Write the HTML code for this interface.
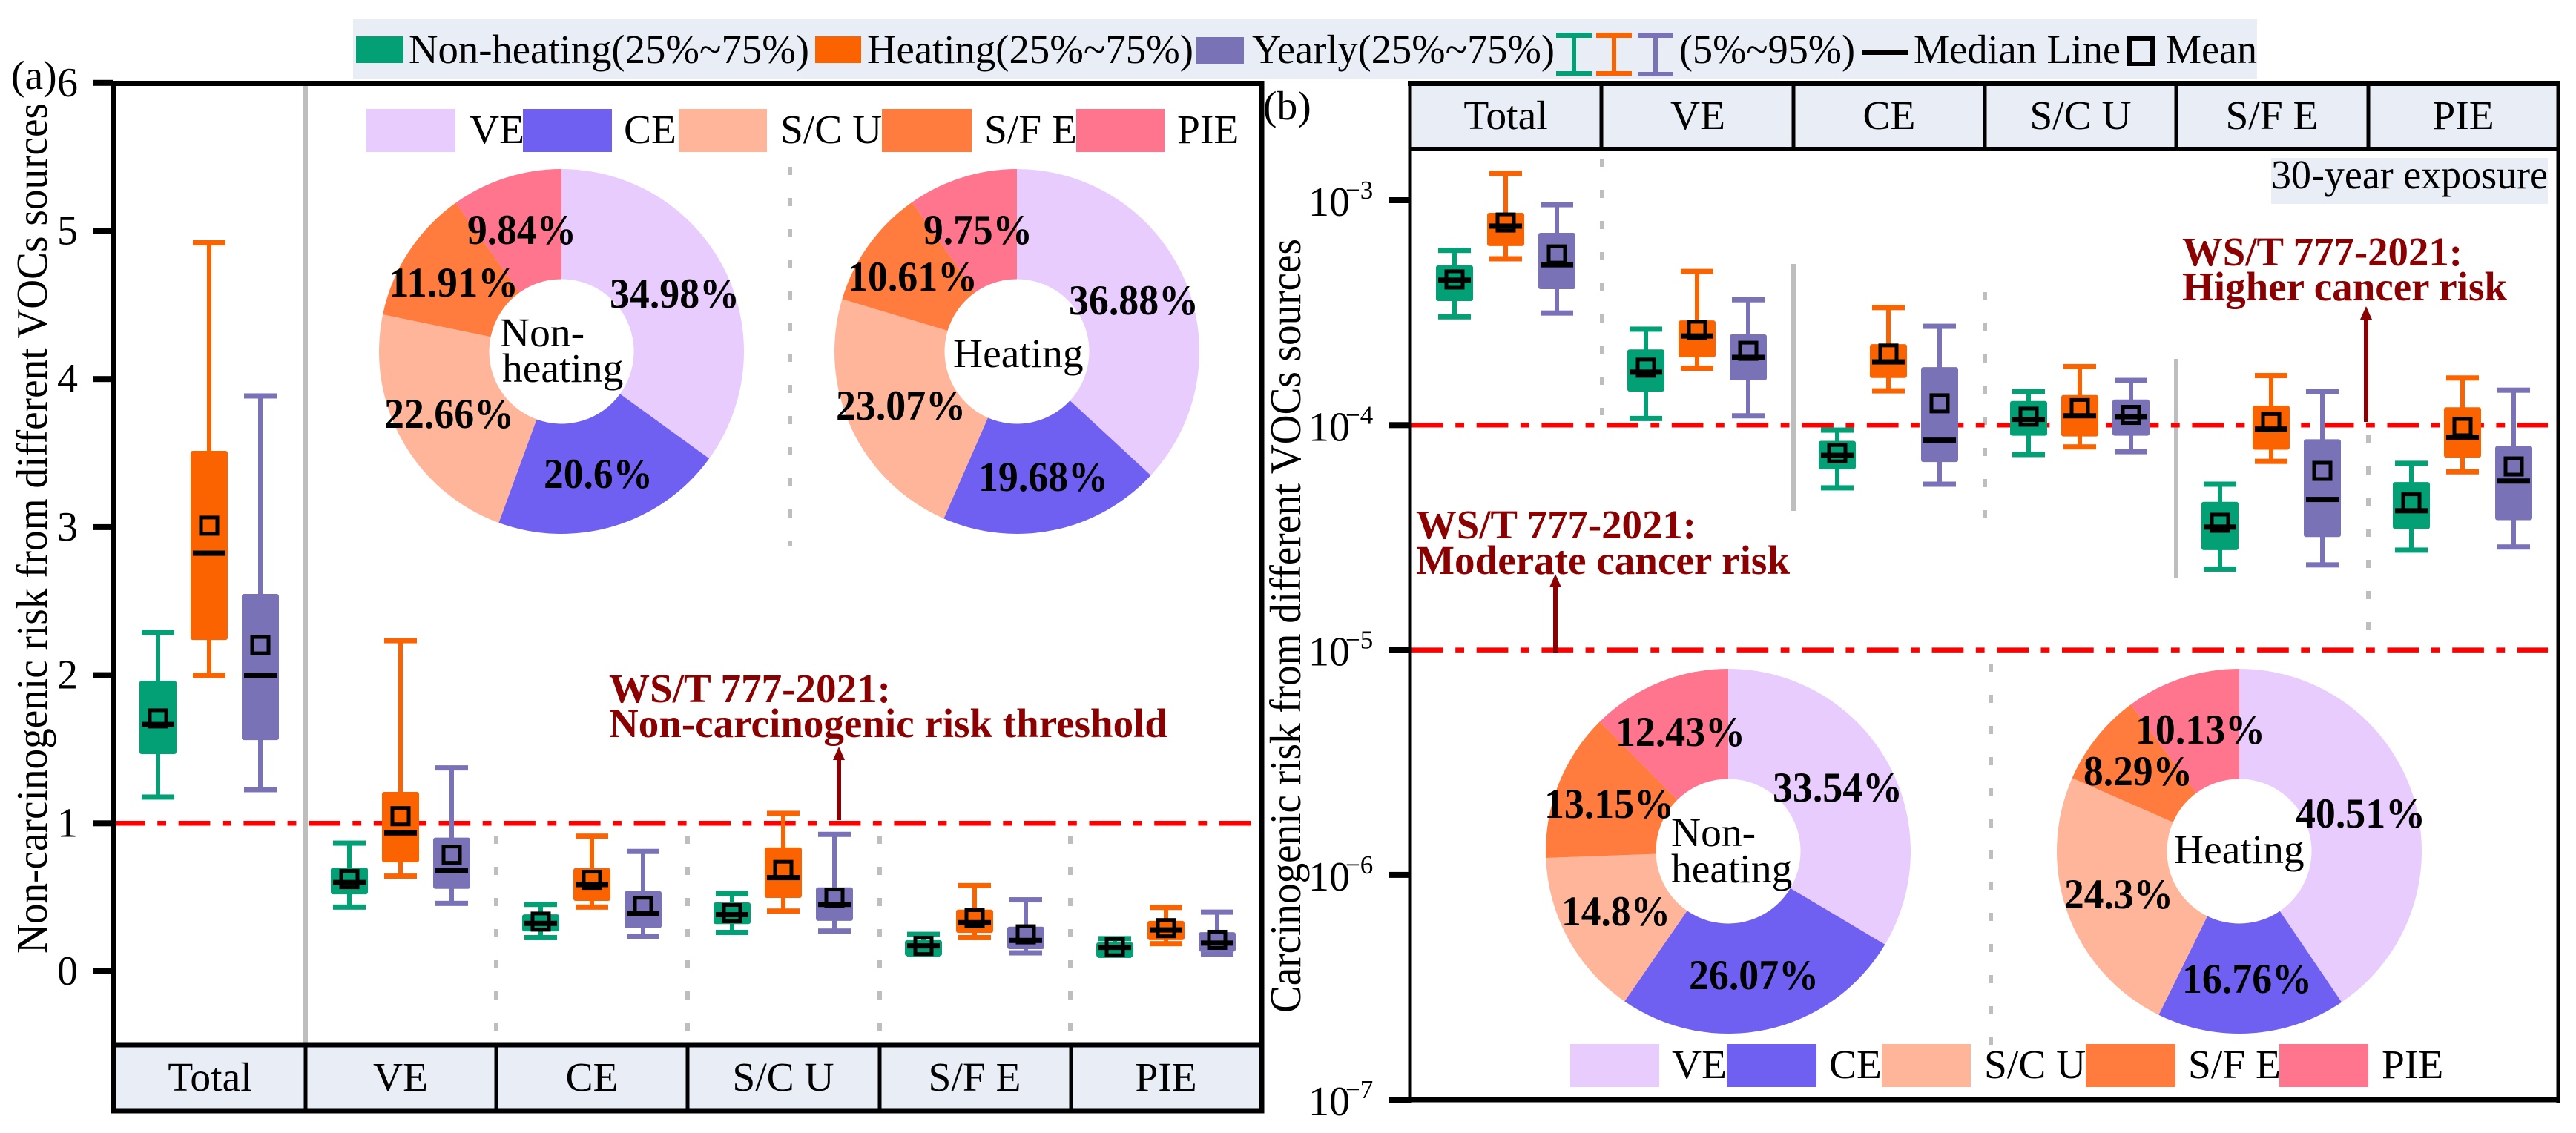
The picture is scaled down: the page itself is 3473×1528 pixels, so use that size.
<!DOCTYPE html>
<html lang="en">
<head>
<meta charset="utf-8">
<title>Non-carcinogenic and carcinogenic risk from VOCs sources</title>
<style>
html,body{margin:0;padding:0;background:#fff;}
svg{display:block;}
text{font-family:"Liberation Serif","DejaVu Serif",serif;fill:#000;}
.f54{font-size:55.5px;}
.pct{font-size:57px;font-weight:bold;}
.note{font-size:55px;font-weight:bold;fill:#8B0000;}
.ttl{font-size:59px;}
.mid{text-anchor:middle;}
</style>
</head>
<body>
<svg id="chart" xmlns="http://www.w3.org/2000/svg" width="3473" height="1528" viewBox="0 0 3473 1528">
  <rect x="0" y="0" width="3473" height="1528" fill="#fff"/>

  <g>
    <rect x="476" y="26" width="2567" height="80" fill="#E9EEF6"/>
    <rect x="480" y="49" width="64" height="36" fill="#03A076"/>
    <text class="f54" x="551" y="85" textLength="540" lengthAdjust="spacingAndGlyphs">Non-heating(25%~75%)</text>
    <rect x="1099" y="49" width="62" height="36" fill="#FA6300"/>
    <text class="f54" x="1169" y="85" textLength="440" lengthAdjust="spacingAndGlyphs">Heating(25%~75%)</text>
    <rect x="1613" y="50" width="64" height="36" fill="#7A72B6"/>
    <text class="f54" x="1688" y="85" textLength="408" lengthAdjust="spacingAndGlyphs">Yearly(25%~75%)</text>
    <g fill="#03A076">
      <rect x="2098" y="44" width="48" height="7"/><rect x="2119" y="44" width="6" height="58"/><rect x="2098" y="96" width="48" height="6"/>
    </g>
    <g fill="#FA6300">
      <rect x="2152" y="44" width="48" height="7"/><rect x="2173" y="44" width="6" height="58"/><rect x="2152" y="96" width="48" height="6"/>
    </g>
    <g fill="#7A72B6">
      <rect x="2208" y="44" width="48" height="7"/><rect x="2229" y="44" width="6" height="59"/><rect x="2208" y="97" width="48" height="6"/>
    </g>
    <text class="f54" x="2264" y="85" textLength="237" lengthAdjust="spacingAndGlyphs">(5%~95%)</text>
    <rect x="2510" y="67" width="63" height="7" fill="#000"/>
    <text class="f54" x="2580" y="85" textLength="279" lengthAdjust="spacingAndGlyphs">Median Line</text>
    <rect x="2871" y="52" width="31" height="34" fill="none" stroke="#000" stroke-width="6"/>
    <text class="f54" x="2920" y="85" textLength="123" lengthAdjust="spacingAndGlyphs">Mean</text>
  </g>

  <text class="f54" x="15" y="120">(a)</text>
  <text class="f54" x="1703" y="161">(b)</text>

  <text class="ttl" transform="translate(63,1286) rotate(-90)" textLength="1147" lengthAdjust="spacingAndGlyphs">Non-carcinogenic risk from different VOCs sources</text>
  <text class="ttl" transform="translate(1753,1366) rotate(-90)" textLength="1044" lengthAdjust="spacingAndGlyphs">Carcinogenic risk from different VOCs sources</text>

  <!-- Panel a static furniture -->
  <g stroke="#BEBEBE" stroke-width="6" fill="none">
    <line x1="412" y1="112" x2="412" y2="1409"/>
    <line x1="669" y1="1127" x2="669" y2="1391" stroke-dasharray="11 31"/>
    <line x1="927" y1="1127" x2="927" y2="1391" stroke-dasharray="11 31"/>
    <line x1="1186" y1="1127" x2="1186" y2="1391" stroke-dasharray="11 31"/>
    <line x1="1443" y1="1127" x2="1443" y2="1391" stroke-dasharray="11 31"/>
    <line x1="1065" y1="225" x2="1065" y2="737" stroke-dasharray="11 31"/>
  </g>

  <!-- Panel b static furniture -->
  <g stroke="#BEBEBE" stroke-width="6" fill="none">
    <line x1="2160" y1="214" x2="2160" y2="560" stroke-dasharray="11 31"/>
    <line x1="2418" y1="356" x2="2418" y2="689"/>
    <line x1="2676" y1="394" x2="2676" y2="698" stroke-dasharray="11 31"/>
    <line x1="2934" y1="484" x2="2934" y2="780"/>
    <line x1="3193" y1="587" x2="3193" y2="852" stroke-dasharray="11 31"/>
    <line x1="2684" y1="895" x2="2684" y2="1409" stroke-dasharray="11 31"/>
  </g>

  <g id="pies"></g>
  <g id="refLines"></g>
  <g id="boxes"></g>
  <g id="ticks"></g>

  <!-- Panel a strip -->
  <g>
    <rect x="153" y="1409" width="1548" height="89" fill="#E9EEF6"/>
    <rect x="153" y="112.5" width="1548" height="1385.5" fill="none" stroke="#000" stroke-width="7"/>
    <line x1="153" y1="1409" x2="1701" y2="1409" stroke="#000" stroke-width="7"/>
    <g stroke="#000" stroke-width="5">
      <line x1="412" y1="1409" x2="412" y2="1498"/><line x1="669" y1="1409" x2="669" y2="1498"/><line x1="927" y1="1409" x2="927" y2="1498"/><line x1="1186" y1="1409" x2="1186" y2="1498"/><line x1="1444" y1="1409" x2="1444" y2="1498"/>
    </g>
    <text class="f54 mid" x="283" y="1471">Total</text>
    <text class="f54 mid" x="540" y="1471">VE</text>
    <text class="f54 mid" x="798" y="1471">CE</text>
    <text class="f54 mid" x="1056" y="1471">S/C U</text>
    <text class="f54 mid" x="1314" y="1471">S/F E</text>
    <text class="f54 mid" x="1572" y="1471">PIE</text>
  </g>

  <!-- Panel b strip -->
  <g>
    <rect x="1901" y="112" width="1548" height="89" fill="#E9EEF6"/>
    <line x1="1901" y1="109" x2="1901" y2="1487" stroke="#000" stroke-width="5"/>
    <line x1="3449" y1="109" x2="3449" y2="1487" stroke="#000" stroke-width="5"/>
    <line x1="1898" y1="112.5" x2="3452" y2="112.5" stroke="#000" stroke-width="7"/>
    <line x1="1901" y1="201" x2="3449" y2="201" stroke="#000" stroke-width="6"/>
    <line x1="1873" y1="1483" x2="3452" y2="1483" stroke="#000" stroke-width="7"/>
    <g stroke="#000" stroke-width="5">
      <line x1="2159" y1="112" x2="2159" y2="201"/><line x1="2418" y1="112" x2="2418" y2="201"/><line x1="2676" y1="112" x2="2676" y2="201"/><line x1="2934" y1="112" x2="2934" y2="201"/><line x1="3193" y1="112" x2="3193" y2="201"/>
    </g>
    <text class="f54 mid" x="2030" y="174">Total</text>
    <text class="f54 mid" x="2289" y="174">VE</text>
    <text class="f54 mid" x="2547" y="174">CE</text>
    <text class="f54 mid" x="2805" y="174">S/C U</text>
    <text class="f54 mid" x="3063" y="174">S/F E</text>
    <text class="f54 mid" x="3321" y="174">PIE</text>
    <rect x="3062" y="213" width="373" height="62" fill="#E9EEF6"/>
    <text class="f54" x="3062" y="254" textLength="373" lengthAdjust="spacingAndGlyphs">30-year exposure</text>
  </g>

  <!-- Annotations -->
  <g>
    <text class="note" x="821" y="947" textLength="380" lengthAdjust="spacingAndGlyphs">WS/T 777-2021:</text>
    <text class="note" x="821" y="994" textLength="753" lengthAdjust="spacingAndGlyphs">Non-carcinogenic risk threshold</text>
    <line x1="1131" y1="1106" x2="1131" y2="1020" stroke="#8B0000" stroke-width="6"/>
    <polygon points="1131,1007 1139,1025 1123,1025" fill="#8B0000"/>
  </g>
  <g>
    <text class="note" x="2942" y="358" textLength="378" lengthAdjust="spacingAndGlyphs">WS/T 777-2021:</text>
    <text class="note" x="2942" y="405" textLength="438" lengthAdjust="spacingAndGlyphs">Higher cancer risk</text>
    <line x1="3190" y1="569" x2="3190" y2="425" stroke="#8B0000" stroke-width="6"/>
    <polygon points="3190,413 3198,431 3182,431" fill="#8B0000"/>
  </g>
  <g>
    <text class="note" x="1909" y="726" textLength="378" lengthAdjust="spacingAndGlyphs">WS/T 777-2021:</text>
    <text class="note" x="1909" y="774" textLength="504" lengthAdjust="spacingAndGlyphs">Moderate cancer risk</text>
    <line x1="2097" y1="880" x2="2097" y2="788" stroke="#8B0000" stroke-width="6"/>
    <polygon points="2097,774 2105,792 2089,792" fill="#8B0000"/>
  </g>

  <!-- Pie legends -->
  <g>
    <rect x="494" y="147" width="120" height="58" fill="#E8CCFD"/>
    <rect x="705" y="147" width="120" height="58" fill="#6F60F1"/>
    <rect x="915" y="147" width="119" height="58" fill="#FFB599"/>
    <rect x="1189" y="147" width="121" height="58" fill="#FF7B3E"/>
    <rect x="1451" y="147" width="119" height="58" fill="#FF758E"/>
    <text class="f54" x="633" y="193">VE</text>
    <text class="f54" x="841" y="193">CE</text>
    <text class="f54" x="1052" y="193">S/C U</text>
    <text class="f54" x="1327" y="193">S/F E</text>
    <text class="f54" x="1587" y="193">PIE</text>
  </g>
  <g>
    <rect x="2117" y="1408" width="120" height="58" fill="#E8CCFD"/>
    <rect x="2328" y="1408" width="121" height="58" fill="#6F60F1"/>
    <rect x="2537" y="1408" width="120" height="58" fill="#FFB599"/>
    <rect x="2812" y="1408" width="121" height="58" fill="#FF7B3E"/>
    <rect x="3073" y="1408" width="120" height="58" fill="#FF758E"/>
    <text class="f54" x="2254" y="1454">VE</text>
    <text class="f54" x="2466" y="1454">CE</text>
    <text class="f54" x="2675" y="1454">S/C U</text>
    <text class="f54" x="2950" y="1454">S/F E</text>
    <text class="f54" x="3211" y="1454">PIE</text>
  </g>

  <!-- Pie labels -->
  <g>
    <text class="pct" x="822" y="415" textLength="175" lengthAdjust="spacingAndGlyphs">34.98%</text>
    <text class="pct" x="733" y="658" textLength="147" lengthAdjust="spacingAndGlyphs">20.6%</text>
    <text class="pct" x="518" y="577" textLength="175" lengthAdjust="spacingAndGlyphs">22.66%</text>
    <text class="pct" x="524" y="400" textLength="175" lengthAdjust="spacingAndGlyphs">11.91%</text>
    <text class="pct" x="630" y="329" textLength="147" lengthAdjust="spacingAndGlyphs">9.84%</text>
    <text class="f54" x="674" y="467">Non-</text>
    <text class="f54" x="677" y="515">heating</text>
    <text class="pct" x="1441" y="424" textLength="175" lengthAdjust="spacingAndGlyphs">36.88%</text>
    <text class="pct" x="1319" y="662" textLength="175" lengthAdjust="spacingAndGlyphs">19.68%</text>
    <text class="pct" x="1127" y="566" textLength="175" lengthAdjust="spacingAndGlyphs">23.07%</text>
    <text class="pct" x="1143" y="392" textLength="175" lengthAdjust="spacingAndGlyphs">10.61%</text>
    <text class="pct" x="1245" y="329" textLength="147" lengthAdjust="spacingAndGlyphs">9.75%</text>
    <text class="f54" x="1285" y="495">Heating</text>
    <text class="pct" x="2390" y="1081" textLength="175" lengthAdjust="spacingAndGlyphs">33.54%</text>
    <text class="pct" x="2277" y="1334" textLength="175" lengthAdjust="spacingAndGlyphs">26.07%</text>
    <text class="pct" x="2105" y="1248" textLength="147" lengthAdjust="spacingAndGlyphs">14.8%</text>
    <text class="pct" x="2082" y="1103" textLength="175" lengthAdjust="spacingAndGlyphs">13.15%</text>
    <text class="pct" x="2178" y="1006" textLength="175" lengthAdjust="spacingAndGlyphs">12.43%</text>
    <text class="f54" x="2253" y="1141">Non-</text>
    <text class="f54" x="2253" y="1190">heating</text>
    <text class="pct" x="3095" y="1116" textLength="175" lengthAdjust="spacingAndGlyphs">40.51%</text>
    <text class="pct" x="2942" y="1339" textLength="175" lengthAdjust="spacingAndGlyphs">16.76%</text>
    <text class="pct" x="2783" y="1225" textLength="147" lengthAdjust="spacingAndGlyphs">24.3%</text>
    <text class="pct" x="2809" y="1059" textLength="147" lengthAdjust="spacingAndGlyphs">8.29%</text>
    <text class="pct" x="2879" y="1003" textLength="175" lengthAdjust="spacingAndGlyphs">10.13%</text>
    <text class="f54" x="2931" y="1164">Heating</text>
  </g>
</svg>

<script>
// ---------- Data: each inner array is [non-heating, heating, yearly] ----------
const sources = ["Total", "VE", "CE", "S/C U", "S/F E", "PIE"];
const seasons = ["non-heating", "heating", "yearly"];

// Panel (a): non-carcinogenic risk
const aLow = [[1.177,1.998,1.227],[0.434,0.643,0.459],[0.228,0.434,0.236],[0.263,0.407,0.272],[0.115,0.228,0.125],[0.108,0.187,0.115]];
const aQ1 = [[1.467,2.238,1.562],[0.520,0.736,0.557],[0.270,0.476,0.292],[0.319,0.496,0.341],[0.103,0.260,0.150],[0.096,0.211,0.133]];
const aMedian = [[1.667,2.824,1.998],[0.600,0.935,0.680],[0.324,0.586,0.390],[0.383,0.633,0.452],[0.172,0.329,0.209],[0.162,0.280,0.191]];
const aMean = [[1.708,3.010,2.203],[0.623,1.048,0.788],[0.336,0.618,0.442],[0.393,0.685,0.498],[0.172,0.358,0.250],[0.164,0.292,0.213]];
const aQ3 = [[1.963,3.515,2.549],[0.700,1.212,0.903],[0.385,0.697,0.542],[0.466,0.837,0.567],[0.211,0.417,0.302],[0.196,0.341,0.265]];
const aHigh = [[2.288,4.920,3.886],[0.866,2.233,1.374],[0.452,0.913,0.810],[0.525,1.067,0.925],[0.250,0.579,0.483],[0.221,0.432,0.400]];

// Panel (b): carcinogenic risk
const bLow = [[3.03e-4,5.49e-4,3.15e-4],[1.07e-4,1.79e-4,1.10e-4],[5.26e-5,1.42e-4,5.46e-5],[7.40e-5,8.00e-5,7.62e-5],[2.29e-5,6.90e-5,2.39e-5],[2.78e-5,6.20e-5,2.87e-5]];
const bQ1 = [[3.56e-4,6.25e-4,4.02e-4],[1.41e-4,2.00e-4,1.58e-4],[6.36e-5,1.62e-4,6.85e-5],[8.97e-5,8.90e-5,8.97e-5],[2.78e-5,7.77e-5,3.18e-5],[3.45e-5,7.16e-5,3.78e-5]];
const bMedian = [[4.41e-4,7.67e-4,5.16e-4],[1.72e-4,2.49e-4,2.00e-4],[7.34e-5,1.91e-4,8.57e-5],[1.06e-4,1.10e-4,1.09e-4],[3.52e-5,9.60e-5,4.67e-5],[4.16e-5,8.83e-5,5.64e-5]];
const bMean = [[4.44e-4,7.96e-4,5.74e-4],[1.80e-4,2.65e-4,2.14e-4],[7.50e-5,2.08e-4,1.25e-4],[1.09e-4,1.19e-4,1.11e-4],[3.68e-5,1.03e-4,6.26e-5],[4.53e-5,9.80e-5,6.55e-5]];
const bQ3 = [[5.13e-4,8.79e-4,7.16e-4],[2.17e-4,2.92e-4,2.53e-4],[8.51e-5,2.29e-4,1.81e-4],[1.28e-4,1.36e-4,1.30e-4],[4.56e-5,1.22e-4,8.65e-5],[5.58e-5,1.20e-4,8.07e-5]];
const bHigh = [[5.98e-4,1.315e-3,9.55e-4],[2.67e-4,4.82e-4,3.61e-4],[9.50e-5,3.33e-4,2.75e-4],[1.41e-4,1.82e-4,1.58e-4],[5.46e-5,1.66e-4,1.41e-4],[6.76e-5,1.62e-4,1.43e-4]];

// Pie shares, clockwise from 12 o'clock: VE, CE, S/C U, S/F E, PIE
const pieANonHeating = [34.98, 20.6, 22.66, 11.91, 9.84];
const pieAHeating = [36.88, 19.68, 23.07, 10.61, 9.75];
const pieBNonHeating = [33.54, 26.07, 14.8, 13.15, 12.43];
const pieBHeating = [40.51, 16.76, 24.3, 8.29, 10.13];

// Axis ticks and reference levels
const aTicks = [0, 1, 2, 3, 4, 5, 6];
const bTickExponents = [-3, -4, -5, -6, -7];
const aThreshold = [1];
const bThresholds = [1e-4, 1e-5];

// ---------- Scales and style ----------
const NS = "http://www.w3.org/2000/svg";
const seasonColors = ["#03A076", "#FA6300", "#7A72B6"];
const sliceColors = ["#E8CCFD", "#6F60F1", "#FFB599", "#FF7B3E", "#FF758E"];
const sliceNames = ["ve", "ce", "scu", "sfe", "pie"];

function yA(v) { return 1310 - 199.7 * v; }
function yB(v) { return 270 + 303.3 * (-3 - Math.log10(v)); }
function xBox(firstCentre, groupIndex, seasonIndex) {
  return firstCentre + groupIndex * 258 + (seasonIndex - 1) * 69;
}

function make(tag, attrs, parent) {
  const el = document.createElementNS(NS, tag);
  for (const k in attrs) el.setAttribute(k, attrs[k]);
  parent.appendChild(el);
  return el;
}

// ---------- Pies ----------
function drawPie(values, cx, cy, rOuter, rInner, name) {
  const host = document.getElementById("pies");
  const total = values.reduce(function (a, b) { return a + b; }, 0);
  let start = 0;
  values.forEach(function (val, i) {
    const end = start + val / total * Math.PI * 2;
    const large = end - start > Math.PI ? 1 : 0;
    const pt = function (r, a) { return (cx + r * Math.sin(a)).toFixed(2) + " " + (cy - r * Math.cos(a)).toFixed(2); };
    const d = "M" + pt(rOuter, start) + " A" + rOuter + " " + rOuter + " 0 " + large + " 1 " + pt(rOuter, end) +
      " L" + pt(rInner, end) + " A" + rInner + " " + rInner + " 0 " + large + " 0 " + pt(rInner, start) + " Z";
    const slice = make("path", { d: d, fill: sliceColors[i] }, host);
    
    
    start = end;
  });
}
drawPie(pieANonHeating, 757, 474, 246, 97.5, "pie-a-nonheating");
drawPie(pieAHeating, 1371, 474, 246, 97.5, "pie-a-heating");
drawPie(pieBNonHeating, 2330, 1148, 246, 97.5, "pie-b-nonheating");
drawPie(pieBHeating, 3019, 1148, 246, 97.5, "pie-b-heating");

// ---------- Reference lines ----------
const refHost = document.getElementById("refLines");
aThreshold.forEach(function (v) {
  const line = make("line", { x1: 153, x2: 1687, y1: yA(v), y2: yA(v), stroke: "#FF0000", "stroke-width": 6.5, "stroke-dasharray": "42.7 16.5 11.8 16.7" }, refHost);
  
  
});
bThresholds.forEach(function (v) {
  const line = make("line", { x1: 1903, x2: 3435, y1: yB(v), y2: yB(v), stroke: "#FF0000", "stroke-width": 6.5, "stroke-dasharray": "42.7 16.5 11.8 16.7" }, refHost);
  
  
});

// ---------- Boxes ----------
function drawBox(scale, x, low, q1, median, mean, q3, high, color, name) {
  const host = document.getElementById("boxes");
  const g = make("g", {}, host);
  
  
  make("rect", { x: x - 3, y: scale(high), width: 6, height: scale(low) - scale(high), fill: color }, g);
  make("rect", { x: x - 22, y: scale(high) - 3.5, width: 44, height: 7, fill: color }, g);
  make("rect", { x: x - 22, y: scale(low) - 3.5, width: 44, height: 7, fill: color }, g);
  make("rect", { x: x - 25, y: scale(q3), width: 50, height: scale(q1) - scale(q3), rx: 3, ry: 3, fill: color }, g);
  make("rect", { x: x - 11, y: scale(mean) - 11, width: 22, height: 22, fill: "none", stroke: "#000", "stroke-width": 5 }, g);
  make("rect", { x: x - 22, y: scale(median) - 3.5, width: 44, height: 7, fill: "#000" }, g);
}
sources.forEach(function (src, gi) {
  seasons.forEach(function (season, si) {
    const slug = src.toLowerCase().replace(/[^a-z]/g, "");
    drawBox(yA, xBox(282, gi, si), aLow[gi][si], aQ1[gi][si], aMedian[gi][si], aMean[gi][si], aQ3[gi][si], aHigh[gi][si], seasonColors[si], "box-a-" + slug + "-" + season);
    drawBox(yB, xBox(2030, gi, si), bLow[gi][si], bQ1[gi][si], bMedian[gi][si], bMean[gi][si], bQ3[gi][si], bHigh[gi][si], seasonColors[si], "box-b-" + slug + "-" + season);
  });
});

// ---------- Ticks ----------
const tickHost = document.getElementById("ticks");
aTicks.forEach(function (t) {
  const mark = make("rect", { x: 125, y: yA(t) - 4, width: 28, height: 8, fill: "#000" }, tickHost);
  
  
  const label = make("text", { x: 105, y: yA(t) + 18, "text-anchor": "end", "font-size": 56 }, tickHost);
  
  
  label.textContent = String(t);
});
bTickExponents.forEach(function (e) {
  const y = yB(Math.pow(10, e));
  const mark = make("rect", { x: 1873, y: y - 4, width: 28, height: 8, fill: "#000" }, tickHost);
  
  
  const base = make("text", { x: 1764, y: y + 21, "font-size": 56 }, tickHost);
  
  
  base.textContent = "10";
  const exp = make("text", { x: 1814, y: y - 2, "font-size": 35 }, tickHost);
  
  
  exp.textContent = "\u2212" + Math.abs(e);
});
</script>
</body>
</html>
